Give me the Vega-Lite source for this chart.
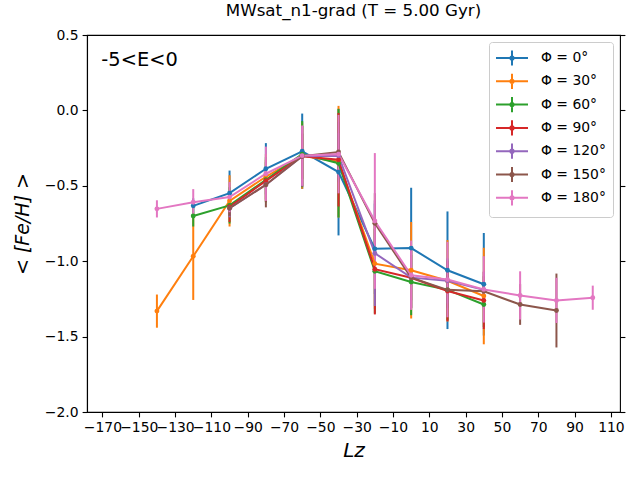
{
  "$schema": "https://vega.github.io/schema/vega-lite/v6.json",
  "autosize": {"type": "none"},
  "padding": {"left": 87, "top": 35, "right": 20, "bottom": 68},
  "width": 533,
  "height": 377,
  "title": {"text": "MWsat_n1-grad (T = 5.00 Gyr)", "fontSize": 16.7, "fontWeight": "normal", "offset": 8, "color": "black"},
  "data": {"values": [
    {"phi": "Φ = 0°", "Lz": -120, "feh": -0.633, "err": 0.05},
    {"phi": "Φ = 0°", "Lz": -100, "feh": -0.549, "err": 0.15},
    {"phi": "Φ = 0°", "Lz": -80, "feh": -0.387, "err": 0.17},
    {"phi": "Φ = 0°", "Lz": -60, "feh": -0.271, "err": 0.25},
    {"phi": "Φ = 0°", "Lz": -40, "feh": -0.409, "err": 0.42},
    {"phi": "Φ = 0°", "Lz": -20, "feh": -0.918, "err": 0.3},
    {"phi": "Φ = 0°", "Lz": 0, "feh": -0.913, "err": 0.4},
    {"phi": "Φ = 0°", "Lz": 20, "feh": -1.06, "err": 0.39},
    {"phi": "Φ = 0°", "Lz": 40, "feh": -1.153, "err": 0.34},
    {"phi": "Φ = 30°", "Lz": -140, "feh": -1.331, "err": 0.11},
    {"phi": "Φ = 30°", "Lz": -120, "feh": -0.967, "err": 0.29},
    {"phi": "Φ = 30°", "Lz": -100, "feh": -0.6, "err": 0.17},
    {"phi": "Φ = 30°", "Lz": -80, "feh": -0.44, "err": 0.15},
    {"phi": "Φ = 30°", "Lz": -60, "feh": -0.3, "err": 0.22},
    {"phi": "Φ = 30°", "Lz": -40, "feh": -0.34, "err": 0.37},
    {"phi": "Φ = 30°", "Lz": -20, "feh": -1.016, "err": 0.3},
    {"phi": "Φ = 30°", "Lz": 0, "feh": -1.06, "err": 0.32},
    {"phi": "Φ = 30°", "Lz": 20, "feh": -1.13, "err": 0.27},
    {"phi": "Φ = 30°", "Lz": 40, "feh": -1.231, "err": 0.32},
    {"phi": "Φ = 60°", "Lz": -120, "feh": -0.7, "err": 0.07},
    {"phi": "Φ = 60°", "Lz": -100, "feh": -0.63, "err": 0.12},
    {"phi": "Φ = 60°", "Lz": -80, "feh": -0.46, "err": 0.15},
    {"phi": "Φ = 60°", "Lz": -60, "feh": -0.29, "err": 0.22},
    {"phi": "Φ = 60°", "Lz": -40, "feh": -0.35, "err": 0.36},
    {"phi": "Φ = 60°", "Lz": -20, "feh": -1.067, "err": 0.28},
    {"phi": "Φ = 60°", "Lz": 0, "feh": -1.138, "err": 0.22},
    {"phi": "Φ = 60°", "Lz": 20, "feh": -1.19, "err": 0.2},
    {"phi": "Φ = 60°", "Lz": 40, "feh": -1.287, "err": 0.15},
    {"phi": "Φ = 90°", "Lz": -100, "feh": -0.64, "err": 0.1},
    {"phi": "Φ = 90°", "Lz": -80, "feh": -0.467, "err": 0.14},
    {"phi": "Φ = 90°", "Lz": -60, "feh": -0.304, "err": 0.2},
    {"phi": "Φ = 90°", "Lz": -40, "feh": -0.327, "err": 0.31},
    {"phi": "Φ = 90°", "Lz": -20, "feh": -1.053, "err": 0.3},
    {"phi": "Φ = 90°", "Lz": 0, "feh": -1.11, "err": 0.2},
    {"phi": "Φ = 90°", "Lz": 20, "feh": -1.198, "err": 0.2},
    {"phi": "Φ = 90°", "Lz": 40, "feh": -1.26, "err": 0.19},
    {"phi": "Φ = 120°", "Lz": -100, "feh": -0.649, "err": 0.06},
    {"phi": "Φ = 120°", "Lz": -80, "feh": -0.493, "err": 0.1},
    {"phi": "Φ = 120°", "Lz": -60, "feh": -0.304, "err": 0.2},
    {"phi": "Φ = 120°", "Lz": -40, "feh": -0.3, "err": 0.15},
    {"phi": "Φ = 120°", "Lz": -20, "feh": -0.947, "err": 0.35},
    {"phi": "Φ = 120°", "Lz": 0, "feh": -1.109, "err": 0.2},
    {"phi": "Φ = 120°", "Lz": 20, "feh": -1.13, "err": 0.15},
    {"phi": "Φ = 120°", "Lz": 40, "feh": -1.19, "err": 0.12},
    {"phi": "Φ = 150°", "Lz": -100, "feh": -0.649, "err": 0.05},
    {"phi": "Φ = 150°", "Lz": -80, "feh": -0.493, "err": 0.15},
    {"phi": "Φ = 150°", "Lz": -60, "feh": -0.304, "err": 0.15},
    {"phi": "Φ = 150°", "Lz": -40, "feh": -0.276, "err": 0.2},
    {"phi": "Φ = 150°", "Lz": -20, "feh": -0.749, "err": 0.2},
    {"phi": "Φ = 150°", "Lz": 0, "feh": -1.109, "err": 0.15},
    {"phi": "Φ = 150°", "Lz": 20, "feh": -1.19, "err": 0.12},
    {"phi": "Φ = 150°", "Lz": 40, "feh": -1.2, "err": 0.1},
    {"phi": "Φ = 150°", "Lz": 60, "feh": -1.287, "err": 0.135},
    {"phi": "Φ = 150°", "Lz": 80, "feh": -1.327, "err": 0.245},
    {"phi": "Φ = 180°", "Lz": -140, "feh": -0.653, "err": 0.057},
    {"phi": "Φ = 180°", "Lz": -120, "feh": -0.609, "err": 0.087},
    {"phi": "Φ = 180°", "Lz": -100, "feh": -0.575, "err": 0.1},
    {"phi": "Φ = 180°", "Lz": -80, "feh": -0.42, "err": 0.18},
    {"phi": "Φ = 180°", "Lz": -60, "feh": -0.3, "err": 0.2},
    {"phi": "Φ = 180°", "Lz": -40, "feh": -0.29, "err": 0.26},
    {"phi": "Φ = 180°", "Lz": -20, "feh": -0.733, "err": 0.45},
    {"phi": "Φ = 180°", "Lz": 0, "feh": -1.093, "err": 0.23},
    {"phi": "Φ = 180°", "Lz": 20, "feh": -1.122, "err": 0.25},
    {"phi": "Φ = 180°", "Lz": 40, "feh": -1.187, "err": 0.22},
    {"phi": "Φ = 180°", "Lz": 60, "feh": -1.227, "err": 0.16},
    {"phi": "Φ = 180°", "Lz": 80, "feh": -1.26, "err": 0.15},
    {"phi": "Φ = 180°", "Lz": 100, "feh": -1.242, "err": 0.08}
  ]},
  "encoding": {
    "x": {"field": "Lz", "type": "quantitative",
          "scale": {"domain": [-178.5, 115], "nice": false, "zero": false},
          "axis": {"title": "Lz", "titleFontSize": 20, "titleFontStyle": "italic", "titleFontWeight": "normal",
                   "values": [-170, -150, -130, -110, -90, -70, -50, -30, -10, 10, 30, 50, 70, 90, 110],
                   "format": "d", "labelOverlap": false, "labelBound": false, "labelFlush": false, "titlePadding": 6}},
    "y": {"field": "feh", "type": "quantitative",
          "scale": {"domain": [-2, 0.5], "nice": false, "zero": false}},
    "color": {"field": "phi", "type": "nominal",
              "scale": {"domain": ["Φ = 0°", "Φ = 30°", "Φ = 60°", "Φ = 90°", "Φ = 120°", "Φ = 150°", "Φ = 180°"],
                        "range": ["#1f77b4", "#ff7f0e", "#2ca02c", "#d62728", "#9467bd", "#8c564b", "#e377c2"]},
              "legend": {"title": null, "orient": "top-right", "offset": 7, "padding": 7, "rowPadding": -0.7,
                         "labelFontSize": 13.9, "labelColor": "black", "labelOffset": 20,
                         "symbolType": "M-2,0L2,0M0,-0.95L0,0.95M-0.2,0A0.2,0.2 0 1 1 0.2,0A0.2,0.2 0 1 1 -0.2,0",
                         "symbolSize": 256, "symbolStrokeWidth": 2, "symbolOffset": 7,
                         "fillColor": "rgba(255,255,255,0.8)", "strokeColor": "#cccccc", "cornerRadius": 3}}
  },
  "layer": [
    {"mark": {"type": "errorbar", "thickness": 2},
     "encoding": {"yError": {"field": "err"},
                  "y": {"field": "feh", "type": "quantitative",
                        "axis": {"title": "< [Fe/H] >", "titleFontSize": 19, "titleFontStyle": "italic", "titleFontWeight": "normal",
                                 "values": [-2, -1.5, -1, -0.5, 0, 0.5], "format": ".1f", "titlePadding": 12}}}},
    {"mark": {"type": "line", "strokeWidth": 2},
     "encoding": {"y": {"field": "feh", "type": "quantitative", "axis": null}}},
    {"mark": {"type": "point", "filled": true, "size": 24, "opacity": 1},
     "encoding": {"y": {"field": "feh", "type": "quantitative",
                        "axis": {"orient": "right", "labels": false, "title": null, "domain": false, "values": [-2, -1.5, -1, -0.5, 0, 0.5]}}}},
    {"transform": [{"filter": "datum.Lz == 100"}],
     "mark": {"type": "text", "text": "-5<E<0", "fontSize": 19.4, "align": "left", "baseline": "alphabetic", "color": "black"},
     "encoding": {"x": {"datum": -170.6}, "y": {"datum": 0.297, "axis": null}, "color": {"value": "black"}}}
  ],
  "resolve": {"axis": {"y": "independent"}},
  "config": {
    "font": "DejaVu Sans",
    "view": {"stroke": "black", "strokeWidth": 1.1},
    "axis": {"grid": false, "labelFontSize": 13.9, "labelColor": "black", "tickColor": "black", "domainColor": "black",
             "tickSize": 4.9, "tickWidth": 1.1, "domainWidth": 1.1, "labelPadding": 4, "titleColor": "black"}
  }
}
